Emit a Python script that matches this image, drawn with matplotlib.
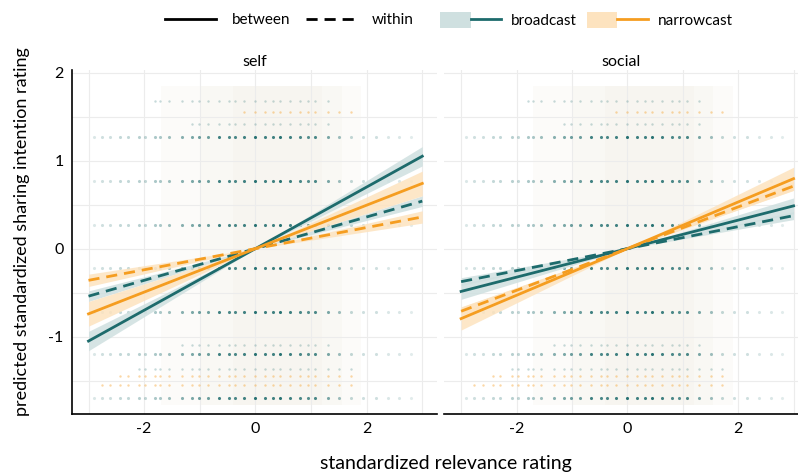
import numpy as np
import matplotlib.pyplot as plt
from matplotlib.lines import Line2D
from matplotlib.patches import Patch
from matplotlib.legend_handler import HandlerTuple

plt.rcParams['font.family'] = ['Lato', 'DejaVu Sans']
plt.rcParams['axes.unicode_minus'] = False

# panels and fitted slopes (lines go through the origin)
panels = ['self', 'social']
slope_between = {'self': {'broadcast': 0.35, 'narrowcast': 0.247},
                 'social': {'broadcast': 0.162, 'narrowcast': 0.265}}
slope_within = {'self': {'broadcast': 0.18, 'narrowcast': 0.12},
                'social': {'broadcast': 0.125, 'narrowcast': 0.237}}
# half width of the confidence band at x = +/-3
ci_between = {'self': {'broadcast': 0.11, 'narrowcast': 0.14},
              'social': {'broadcast': 0.09, 'narrowcast': 0.13}}
ci_within = {'self': {'broadcast': 0.06, 'narrowcast': 0.07},
             'social': {'broadcast': 0.045, 'narrowcast': 0.05}}
x_range = [-3, 3]

# raw data rows (discrete rating levels) and columns
dot_x = [-2.91, -2.76, -2.61, -2.43, -2.29, -2.09, -1.98, -1.80, -1.71, -1.55,
         -1.32, -1.14, -1.01, -0.86, -0.65, -0.47, -0.36, -0.20, 0.0, 0.18,
         0.31, 0.45, 0.63, 0.81, 0.94, 1.08, 1.30, 1.51, 1.71, 1.93,
         2.16, 2.38, 2.59, 2.79]
dot_weight = [0.15, 0.2, 0.2, 0.25, 0.25, 0.3, 0.25, 0.35, 0.35, 0.4,
              0.5, 0.55, 0.6, 0.6, 0.8, 0.75, 0.75, 0.8, 0.9, 0.8,
              0.8, 0.9, 0.8, 0.75, 0.7, 0.75, 0.55, 0.4, 0.25, 0.2,
              0.2, 0.15, 0.15, 0.12]
dot_rows = [1.27, 0.77, 0.27, -0.22, -0.72, -1.2, -1.7]
faint_teal_rows = [1.68, 1.42, -1.1, -1.37]
faint_teal_span = [(-1.8, 1.45), (-1.2, 1.5), (-1.4, 1.5), (-2.2, 1.8)]
faint_orange_rows = [1.55, -1.45, -1.55]
faint_orange_span = [(-0.3, 1.8), (-2.6, 1.8), (-2.8, 1.8)]
# dense cloud of jittered responses, widest to narrowest
cloud_spans = [(-1.7, 1.9), (-1.0, 1.55), (-0.4, 1.2)]
cloud_y = (-1.78, 1.85)

teal = '#1d6b6c'
orange = '#f59d20'
teal_fill = '#cfe0e0'
orange_fill = '#fde3bf'
colors = {'broadcast': teal, 'narrowcast': orange}
fills = {'broadcast': teal_fill, 'narrowcast': orange_fill}

fig = plt.figure(figsize=(7.98, 4.76), dpi=100)
ax1 = fig.add_axes([0.090, 0.130, 0.458, 0.723])
ax2 = fig.add_axes([0.557, 0.130, 0.443, 0.723])

xs = np.linspace(x_range[0], x_range[1], 61)
dx = np.array(dot_x)
dw = np.array(dot_weight)

for ax, panel in zip([ax1, ax2], panels):
    ax.set_xlim(-3.3, 3.27 if panel == 'self' else 3.08)
    ax.set_ylim(-1.88, 2.03)
    ax.set_xticks([-2, 0, 2])
    ax.set_yticks([-1, 0, 1, 2])
    ax.set_xticks([-3, -1, 1, 3], minor=True)
    ax.set_yticks([-1.5, -0.5, 0.5, 1.5], minor=True)
    ax.grid(True, which='both', color='#ececec', lw=0.8)
    ax.set_axisbelow(True)
    ax.tick_params(length=0, labelsize=11.5, pad=6, which='both')
    for s in ['top', 'right']:
        ax.spines[s].set_visible(False)
    ax.spines['bottom'].set_linewidth(1.2)
    ax.spines['left'].set_linewidth(1.2)
    ax.set_title(panel, fontsize=11.5, pad=3)

    # raw data
    for a, b in cloud_spans:
        ax.fill_betweenx(cloud_y, a, b, color='#ebe6d8', alpha=0.13, lw=0, zorder=0.5)
    for y in dot_rows:
        for x, w in zip(dx, dw):
            ax.scatter(x, y, s=5, color=teal, alpha=min(w * 1.05, 1), lw=0, zorder=1)
    for y, (a, b) in zip(faint_teal_rows, faint_teal_span):
        m = (dx >= a) & (dx <= b)
        ax.scatter(dx[m], [y] * m.sum(), s=3, color=teal, alpha=0.25, lw=0, zorder=1)
    for y, (a, b) in zip(faint_orange_rows, faint_orange_span):
        m = (dx >= a) & (dx <= b)
        ax.scatter(dx[m], [y] * m.sum(), s=3, color=orange, alpha=0.4, lw=0, zorder=1)

    # fitted lines with bands
    for aud in ['broadcast', 'narrowcast']:
        for slopes, cis, ls in [(slope_between, ci_between, '-'), (slope_within, ci_within, (0, (4, 2.5)))]:
            k = slopes[panel][aud]
            hw = cis[panel][aud] * np.abs(xs) / 3
            ax.fill_between(xs, k * xs - hw, k * xs + hw, color=fills[aud], alpha=0.85, lw=0, zorder=2)
            ax.plot(xs, k * xs, color=colors[aud], lw=2, ls=ls, zorder=3)

ax2.spines['left'].set_visible(False)
ax2.tick_params(labelleft=False)

fig.text(0.028, 0.513, 'predicted standardized sharing intention rating', rotation=90,
         ha='center', va='center', fontsize=13)
fig.text(0.559, 0.027, 'standardized relevance rating', ha='center', va='center', fontsize=14)

h1 = [Line2D([], [], color='black', lw=2),
      Line2D([], [], color='black', lw=2, ls=(0, (4, 2.5)))]
fig.legend(h1, ['between', 'within'], loc='center', bbox_to_anchor=(0.363, 0.957),
           ncol=2, frameon=False, fontsize=11, handlelength=3.3, columnspacing=1.0,
           handletextpad=1.05)
h2 = [(Patch(color=teal_fill, lw=0), Line2D([], [], color=teal, lw=2)),
      (Patch(color=orange_fill, lw=0), Line2D([], [], color=orange, lw=2))]
fig.legend(h2, ['broadcast', 'narrowcast'], loc='center', bbox_to_anchor=(0.735, 0.957),
           ncol=2, frameon=False, fontsize=11, handlelength=4.0, handleheight=1.2,
           columnspacing=0.65, handletextpad=0.65,
           handler_map={tuple: HandlerTuple(ndivide=None, pad=0)})

fig.savefig('out.png', dpi=100)
